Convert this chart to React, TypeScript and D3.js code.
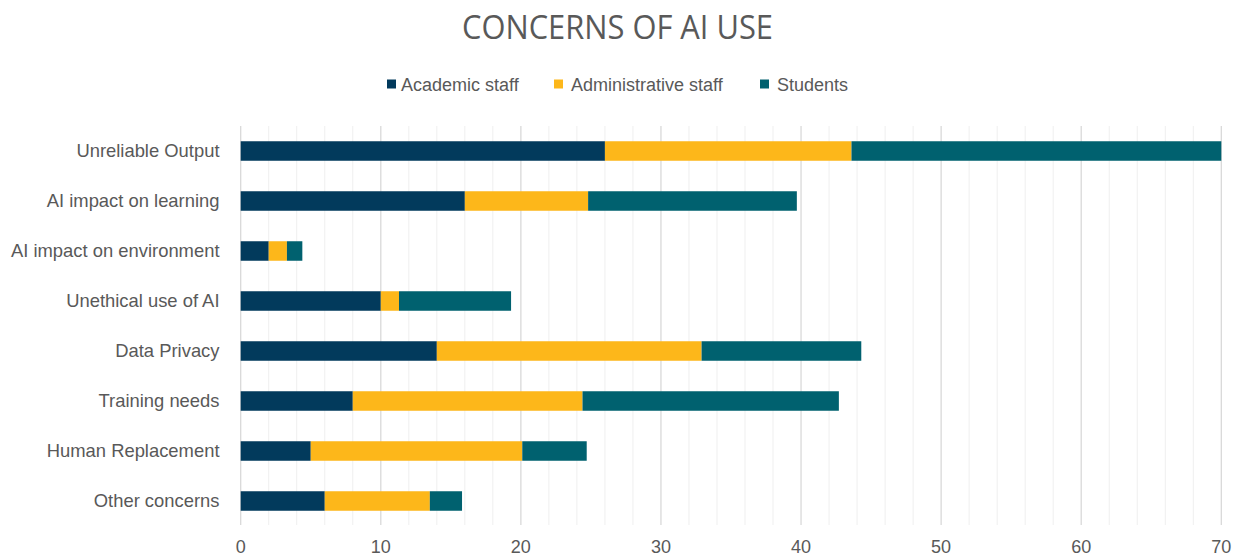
import React from "react";
import * as d3 from "d3";

const categories = [
  "Unreliable Output",
  "AI impact on learning",
  "AI impact on environment",
  "Unethical use of AI",
  "Data Privacy",
  "Training needs",
  "Human Replacement",
  "Other concerns",
];
const seriesNames = ["Academic staff", "Administrative staff", "Students"];
const academic = [26, 16, 2, 10, 14, 8, 5, 6];
const administrative = [17.6, 8.8, 1.3, 1.3, 18.9, 16.4, 15.1, 7.5];
const students = [26.4, 14.9, 1.1, 8.0, 11.4, 18.3, 4.6, 2.3];
const colors = ["#023A5C", "#FDB71A", "#00616F"];
const xTicks = [0, 10, 20, 30, 40, 50, 60, 70];

const W = 1247;
const H = 558;
const left = 240.7;
const right = 1221.3;
const top = 126;
const bottom = 526;

export default function App() {
  const x = d3.scaleLinear().domain([0, 70]).range([left, right]);
  const y = d3
    .scaleBand<string>()
    .domain(categories)
    .range([top, bottom])
    .paddingInner(0.61)
    .paddingOuter(0.305);

  const rows = categories.map((c, i) => ({
    cat: c,
    "Academic staff": academic[i],
    "Administrative staff": administrative[i],
    Students: students[i],
  }));
  const stacked = d3.stack<any>().keys(seriesNames)(rows);

  const minorGrid = d3.range(0, 71, 2);
  const font = "'Liberation Sans', Arial, sans-serif";

  const legendItems = [
    { name: seriesNames[0], sq: 387, tx: 401 },
    { name: seriesNames[1], sq: 554, tx: 571 },
    { name: seriesNames[2], sq: 760, tx: 777 },
  ];

  return (
    <svg
      width={W}
      height={H}
      style={{ position: "absolute", left: 0, top: 0, background: "#fff" }}
    >
      <text
        x={617.5}
        y={39}
        textAnchor="middle"
        fontFamily="'Open Sans', Lato, sans-serif"
        fontWeight={400}
        fontSize={32}
        fill="#595959"
        textLength={311}
        lengthAdjust="spacingAndGlyphs"
      >
        CONCERNS OF AI USE
      </text>

      {legendItems.map((l, i) => (
        <g key={l.name}>
          <rect x={l.sq} y={79.5} width={9} height={9} fill={colors[i]} />
          <text
            x={l.tx}
            y={90.5}
            fontFamily={font}
            fontSize={18}
            fill="#595959"
          >
            {l.name}
          </text>
        </g>
      ))}

      {minorGrid.map((v) => (
        <line
          key={v}
          x1={x(v)}
          x2={x(v)}
          y1={top}
          y2={bottom - 1}
          stroke={v % 10 === 0 ? "#d9d9d9" : "#efefef"}
          strokeWidth={v % 10 === 0 ? 1.3 : 1}
        />
      ))}

      {stacked.map((s, si) => (
        <g key={s.key} fill={colors[si]}>
          {s.map((d, i) => (
            <rect
              key={i}
              x={x(d[0])}
              width={x(d[1]) - x(d[0])}
              y={y(categories[i])!}
              height={y.bandwidth()}
            />
          ))}
        </g>
      ))}

      {categories.map((c) => (
        <text
          key={c}
          x={219.5}
          y={y(c)! + y.bandwidth() / 2}
          dy="0.35em"
          textAnchor="end"
          fontFamily={font}
          fontSize={18.4}
          fill="#595959"
        >
          {c}
        </text>
      ))}

      {xTicks.map((t) => (
        <text
          key={t}
          x={x(t)}
          y={553}
          textAnchor="middle"
          fontFamily={font}
          fontSize={18}
          fill="#595959"
        >
          {t}
        </text>
      ))}
    </svg>
  );
}
